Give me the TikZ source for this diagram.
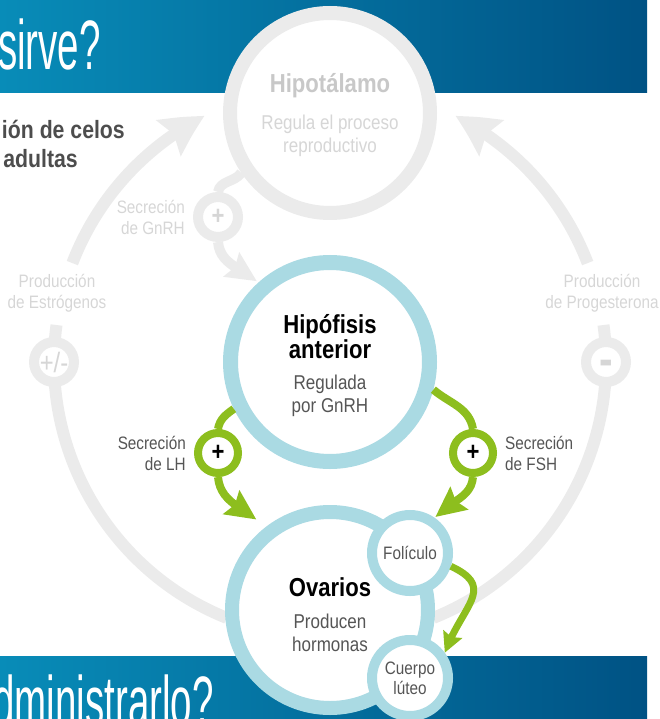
\documentclass[tikz,border=0pt]{standalone}
\usepackage{fontspec}
\setmainfont[FakeStretch=0.85]{Liberation Sans}
\newfontfamily\bannerfont[FakeStretch=0.55]{Liberation Sans}
\usetikzlibrary{arrows.meta,bending,calc,positioning}

\definecolor{ringblue}{RGB}{170,218,227}
\definecolor{ringgray}{RGB}{235,235,235}
\definecolor{leafgreen}{RGB}{141,190,30}
\definecolor{bannerleft}{RGB}{8,140,184}
\definecolor{bannerright}{RGB}{0,82,132}
\definecolor{textgray}{RGB}{85,85,85}
\definecolor{palegray}{RGB}{214,214,214}
\definecolor{titlegray}{RGB}{200,200,200}
\definecolor{introgray}{RGB}{77,77,77}

\tikzset{
	organ/.style={circle, draw=ringblue, fill=white, inner sep=0pt},
	phase/.style={organ, line width=10pt, minimum size=76pt, text=textgray, font=\fontsize{18}{20}\selectfont, align=center},
	sign/.style={circle, fill=white, inner sep=0pt, minimum size=40pt, font=\bfseries\fontsize{26}{26}\selectfont},
	greensign/.style={sign, draw=leafgreen, line width=8pt},
	graysign/.style={sign, draw=ringgray, line width=10pt, text=palegray},
	orgtitle/.style={font=\bfseries\fontsize{26}{25}\selectfont, align=center},
	orgtext/.style={font=\fontsize{20}{23}\selectfont, text=textgray, align=center},
	sidelabel/.style={font=\fontsize{18}{21}\selectfont, text=textgray, inner sep=0pt},
	bannertext/.style={font=\bannerfont\fontsize{70}{70}\selectfont, text=white, inner sep=0pt},
	introtext/.style={font=\bfseries\fontsize{25}{30}\selectfont, text=introgray, inner sep=0pt},
	cycleline/.style={draw=ringgray, line width=12pt},
	cyclearrow/.style={cycleline, -{Stealth[length=42pt, width=42pt, inset=6pt, bend]}},
	grayline/.style={draw=ringgray, line width=10pt},
	grayarrow/.style={grayline, -{Stealth[length=30pt, width=28pt, inset=4pt]}},
	greenline/.style={draw=leafgreen, line width=8pt},
	greenarrow/.style={greenline, -{Stealth[length=30pt, width=28pt, inset=4pt]}},
}

\begin{document}
\begin{tikzpicture}[x=1pt, y=1pt]
	\useasboundingbox (0,-719) rectangle (660,0);
	\clip (0,-719) rectangle (660,0);
	% banners
	\shade[left color=bannerleft, right color=bannerright] (0,0) rectangle (647,-93);
	\shade[left color=bannerleft, right color=bannerright] (0,-656) rectangle (647,-719);
	\node[bannertext, anchor=base east] (topquestion) at (101,-70) {sirve?};
	\node[bannertext, anchor=base east] (bottomquestion) at (214,-725) {dministrarlo?};
	\node[introtext, anchor=base east] (introa) at (125,-139) {ión de celos};
	\node[introtext, anchor=base east] (introb) at (78,-168) {adultas};

	% hipofisis and the outer feedback loop
	\node[organ, line width=15pt, minimum size=199pt] (hipof) at (330,-362) {};
	\node[orgtitle] (hipoftitle) at ($(hipof.center)+(0,25)$) {Hipófisis\\anterior};
	\node[orgtext] (hipoftext) at ($(hipof.center)+(0,-34)$) {Regulada\\por GnRH};

	\draw[cycleline] ($(hipof.center)+(-112:276)$) arc[start angle=-112, end angle=-187.7, radius=276];
	\draw[cyclearrow] ($(hipof.center)+(159:276)$) arc[start angle=159, end angle=117, radius=276];
	\draw[cycleline] ($(hipof.center)+(-68:276)$) arc[start angle=-68, end angle=7.7, radius=276];
	\draw[cyclearrow] ($(hipof.center)+(21:276)$) arc[start angle=21, end angle=63, radius=276];
	\node[graysign, font=\fontsize{28}{28}\selectfont] (estrsign) at ($(hipof.center)+(180:276)$) {+/-};
	\node[graysign, font=\bfseries\fontsize{48}{48}\selectfont, text height=26pt, text depth=0pt] (progsign) at ($(hipof.center)+(0:276)$) {-};
	\node[sidelabel, text=palegray, align=center] (estrlabel) at ($(estrsign)+(3,69)$) {Producción\\de Estrógenos};
	\node[sidelabel, text=palegray, align=center] (proglabel) at ($(progsign)+(-4,69)$) {Producción\\de Progesterona};

	% hipotalamo
	\node[organ, draw=ringgray, line width=14pt, minimum size=200pt] (hipot) at (330,-113) {};
	\node[orgtitle, text=titlegray] (hipottitle) at ($(hipot.center)+(0,27)$) {Hipotálamo};
	\node[orgtext, text=palegray] (hipottext) at ($(hipot.center)+(0,-23)$) {Regula el proceso\\reproductivo};
	\node[graysign] (gnrhsign) at (218,-217) {+};
	\node[sidelabel, text=palegray, align=right, left=8pt of gnrhsign] (gnrhlabel) {Secreción\\de GnRH};
	\draw[grayline] (hipot.214) to[out=-125, in=80] (gnrhsign.north);
	\draw[grayarrow, shorten >=2pt] (gnrhsign.south) to[out=-85, in=140] (hipof.132);

	% ovarios
	\node[organ, line width=14pt, minimum size=196pt] (ovar) at (330,-610) {};
	\node[orgtitle] (ovartitle) at ($(ovar.center)+(0,23)$) {Ovarios};
	\node[orgtext] (ovartext) at ($(ovar.center)+(0,-23)$) {Producen\\hormonas};
	\node[phase] (folic) at (410,-553) {Folículo};
	\node[phase] (cuerpo) at (410,-678) {Cuerpo\\lúteo};
	\draw[greenline, line width=7pt, -{Stealth[length=20pt, width=20pt, inset=3pt]}] (folic.-18) to[out=-25, in=70, looseness=1.5] (cuerpo.36);

	% LH and FSH
	\node[greensign] (lhsign) at (218,-453) {+};
	\node[greensign] (fshsign) at (473,-453) {+};
	\node[sidelabel, align=right, left=8pt of lhsign] (lhlabel) {Secreción\\de LH};
	\node[sidelabel, align=left, right=8pt of fshsign] (fshlabel) {Secreción\\de FSH};
	\draw[greenline] (hipof.206) to[out=-145, in=80] (lhsign.north);
	\draw[greenarrow, shorten >=12pt] (lhsign.south) to[out=-85, in=135] (ovar.128);
	\draw[greenline] (hipof.-15) to[out=-40, in=100] (fshsign.north);
	\draw[greenarrow, shorten >=1pt] (fshsign.south) to[out=-95, in=50] (folic.55);
\end{tikzpicture}
\end{document}
